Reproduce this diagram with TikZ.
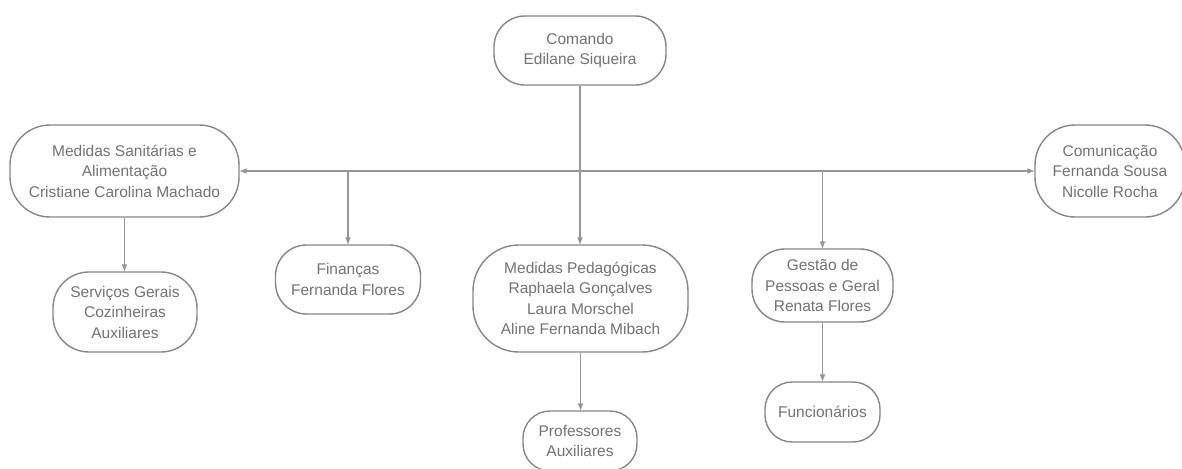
\documentclass[tikz,border=0pt]{standalone}
\usepackage{fontspec}
\setmainfont{Liberation Sans}
\usetikzlibrary{arrows.meta}
\definecolor{txt}{RGB}{115,115,115}
\definecolor{bord}{RGB}{135,135,135}
\definecolor{lin}{RGB}{150,150,150}
\tikzset{
  box/.style={draw=bord, line width=1.4pt, rounded corners=#1, fill=white,
    text=txt, align=center, inner sep=0pt,
    font=\fontsize{15.5}{20.5}\selectfont},
  box/.default=30pt,
  conn/.style={draw=lin, line width=1.2pt},
  arr/.style={conn, -{Triangle[length=7pt,width=5pt]}},
}
\begin{document}
\begin{tikzpicture}[x=1pt,y=-1pt]
\fill[white] (0,0) rectangle (1182,468);
\useasboundingbox (0,0) rectangle (1182,468);
\node[box=31pt, minimum width=172pt, minimum height=69pt] (cmd) at (580,50.5) {Comando\\Edilane Siqueira};
\node[box=40pt, minimum width=229pt, minimum height=92pt] (ms) at (124.5,171) {Medidas Sanitárias e\\Alimentação\\Cristiane Carolina Machado};
\node[box=40pt, minimum width=150pt, minimum height=92pt] (com) at (1110,171) {Comunicação\\Fernanda Sousa\\Nicolle Rocha};
\node[box=31pt, minimum width=145pt, minimum height=69pt] (fin) at (348,279.5) {Finanças\\Fernanda Flores};
\node[box=36pt, minimum width=144pt, minimum height=80pt] (serv) at (125,312) {Serviços Gerais\\Cozinheiras\\Auxiliares};
\node[box=46pt, minimum width=215pt, minimum height=107pt] (mp) at (580.5,298.5) {Medidas Pedagógicas\\Raphaela Gonçalves\\Laura Morschel\\Aline Fernanda Mibach};
\node[box=33pt, minimum width=141pt, minimum height=73pt] (ges) at (822.5,285.5) {Gestão de\\Pessoas e Geral\\Renata Flores};
\node[box=27pt, minimum width=115pt, minimum height=60pt] (func) at (822.5,412) {Funcionários};
\node[box=27pt, minimum width=114pt, minimum height=60pt] (prof) at (580,441) {Professores\\Auxiliares};
\coordinate (j) at (cmd.south |- ms.east);
\draw[arr] (cmd.south) -- (cmd.south |- mp.north);
\draw[arr] (j) -- (ms.east);
\draw[arr] (j) -- (com.west);
\draw[arr] (j -| fin.north) -- (fin.north);
\draw[arr] (j -| ges.north) -- (ges.north);
\draw[arr] (ms.south) -- (ms.south |- serv.north);
\draw[arr] (mp.south) -- (mp.south |- prof.north);
\draw[arr] (ges.south) -- (ges.south |- func.north);
\end{tikzpicture}
\end{document}
